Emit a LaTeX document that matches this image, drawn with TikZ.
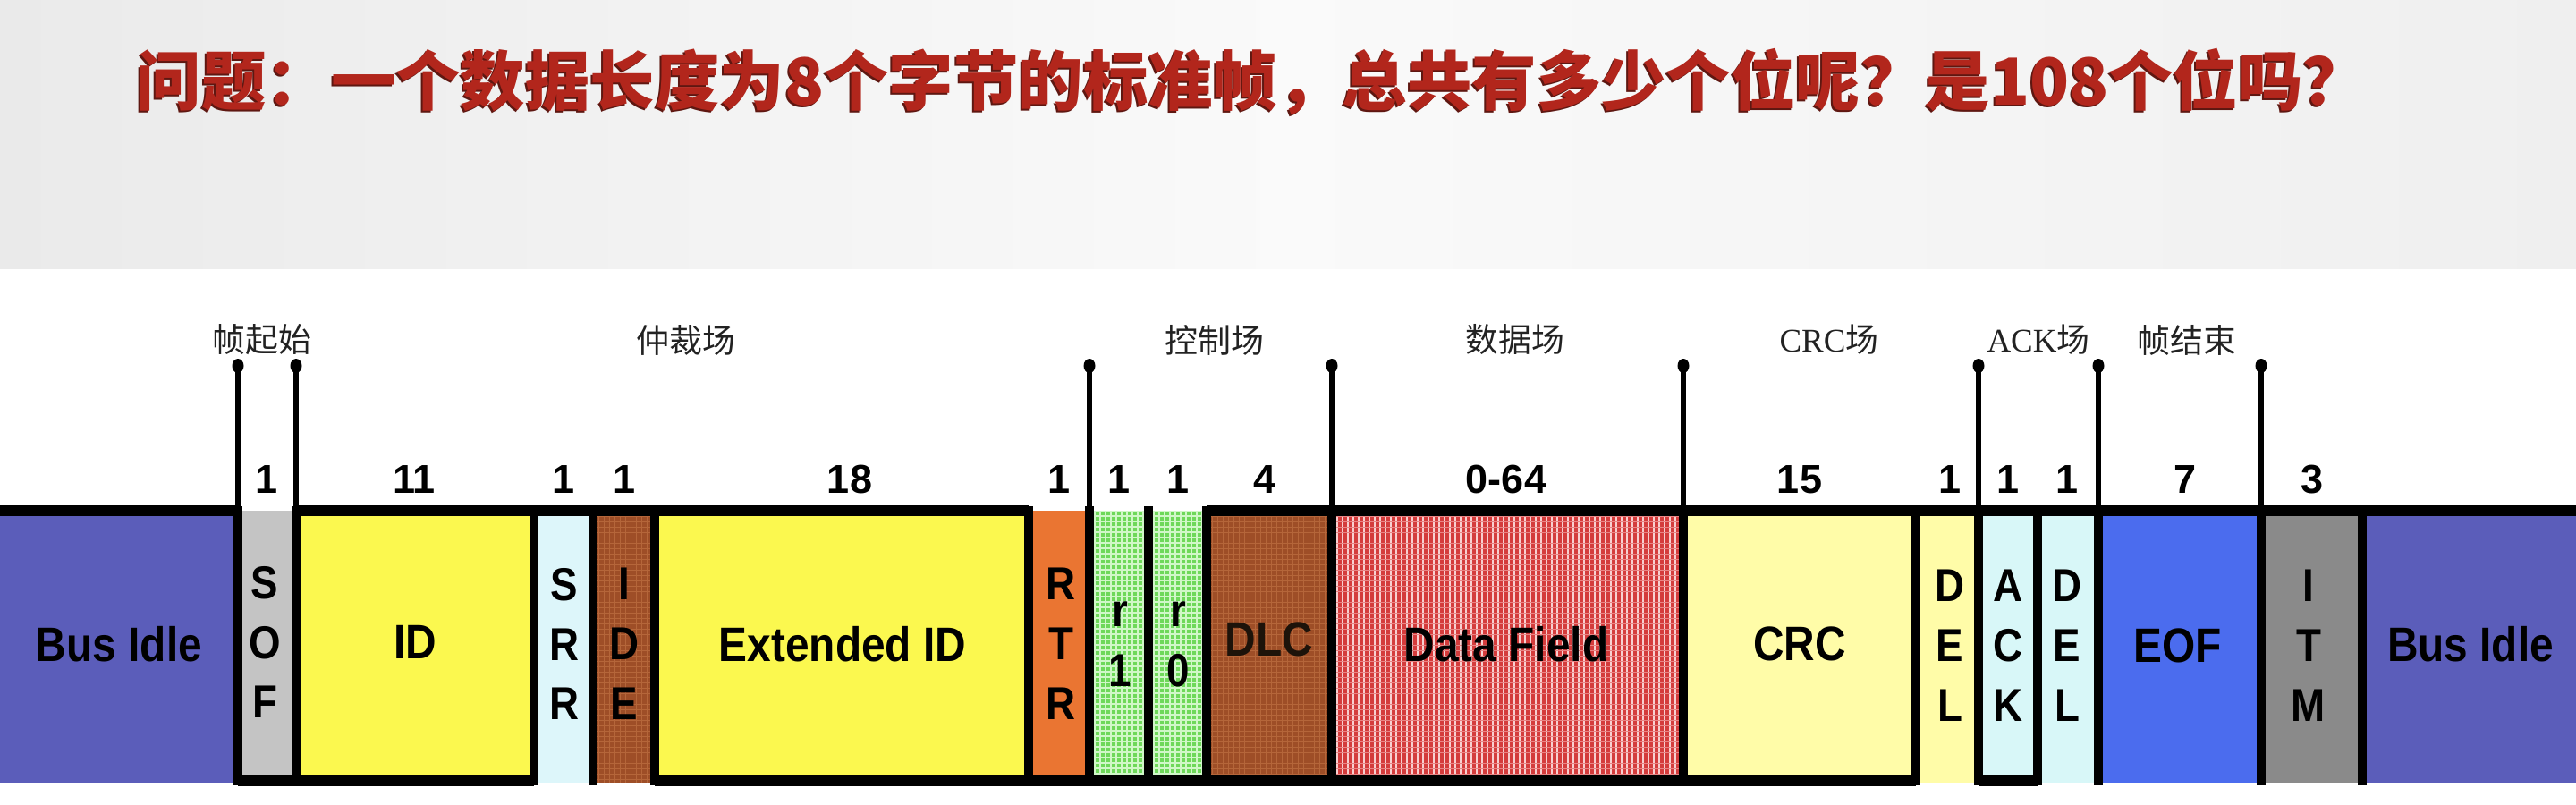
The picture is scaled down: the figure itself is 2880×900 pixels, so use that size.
\documentclass[tikz,border=0pt]{standalone}
\usepackage{fontspec}
\setmainfont{Liberation Sans}
\newfontfamily\cjk{Noto Sans CJK SC}
\newfontfamily\lserif{Liberation Serif}
\newcommand{\vst}[1]{\scalebox{1}[1.13]{#1}}
\definecolor{titlered}{HTML}{B2261C}
\definecolor{titleshadow}{HTML}{5E1711}
\definecolor{idle}{HTML}{5B5DBA}
\definecolor{sofgray}{HTML}{C4C4C4}
\definecolor{idyellow}{HTML}{FBF84F}
\definecolor{srrcyan}{HTML}{DDF6FA}
\definecolor{brownf}{HTML}{9E4E27}
\definecolor{brownln}{HTML}{B5663A}
\definecolor{rtrorange}{HTML}{EA7532}
\definecolor{greenbg}{HTML}{6ED85A}
\definecolor{greenln}{HTML}{D0F7C8}
\definecolor{redbg}{HTML}{D43C3C}
\definecolor{redln}{HTML}{F7D0D0}
\definecolor{redln2}{HTML}{E98585}
\definecolor{crcyellow}{HTML}{FFFCA8}
\definecolor{ackcyan}{HTML}{D8F7F8}
\definecolor{eofblue}{HTML}{4B6CEE}
\definecolor{itmgray}{HTML}{8A8A8A}
\definecolor{lblgray}{HTML}{222222}
\definecolor{hdrL}{HTML}{EAEAEA}
\definecolor{hdrR}{HTML}{EFEFEF}
\tikzset{
  hline/.style={line width=3.2pt, black},
  vline/.style={line width=3.0pt, black},
  pinline/.style={line width=1.45pt, black},
  num/.style={font=\fontsize{12.8}{15}\selectfont\bfseries, inner sep=0pt},
  inlbl/.style={font=\fontsize{13.6}{16}\selectfont\bfseries, inner sep=0pt},
  stack/.style={font=\fontsize{13}{19}\selectfont\bfseries, inner sep=0pt, align=center},
  cjklbl/.style={font=\cjk\fontsize{10.5}{12}\selectfont, text=lblgray, inner sep=0pt},
  titlefont/.style={font=\cjk\bfseries\fontsize{20.6}{24}\selectfont, inner sep=0pt, anchor=west}
}
\begin{document}
\begin{tikzpicture}[x=0.01cm, y=-0.01cm]
\useasboundingbox (0,0) rectangle (2880,900);
% background
\fill[white] (0,0) rectangle (2880,900);
\shade[left color=hdrL, right color=hdrR, middle color=white!98!black] (0,0) rectangle (2880,300);

% title
\node[titlefont, text=titleshadow] (titleshadow) at (150,93) {问题：一个数据长度为8个字节的标准帧，总共有多少个位呢？是108个位吗？};
\node[titlefont, text=titlered] (title) at (152,91) {问题：一个数据长度为8个字节的标准帧，总共有多少个位呢？是108个位吗？};

% field fills
\fill[idle] (0,571) rectangle (266,875);
\fill[sofgray] (266,571) rectangle (331,873);
\fill[idyellow] (331,571) rectangle (597,873);
\fill[srrcyan] (597,571) rectangle (663,875);
\begin{scope}
  \clip (663,571) rectangle (732,875);
  \fill[brownf] (663,571) rectangle (732,875);
  \foreach \x in {663,669,...,732} \draw[brownln, line width=0.25pt] (\x,571) -- (\x,875);
  \foreach \y in {571,577,...,875} \draw[brownln, line width=0.25pt] (663,\y) -- (732,\y);
\end{scope}
\fill[idyellow] (732,571) rectangle (1150,873);
\fill[rtrorange] (1150,571) rectangle (1218,873);
\begin{scope}
  \clip (1218,571) rectangle (1349,873);
  \fill[greenbg] (1218,571) rectangle (1349,873);
  \foreach \x in {1218,1224,...,1349} \draw[greenln, line width=0.3pt] (\x,571) -- (\x,873);
  \foreach \y in {571,577,...,873} \draw[greenln, line width=0.3pt] (1218,\y) -- (1349,\y);
\end{scope}
\begin{scope}
  \clip (1349,571) rectangle (1489,873);
  \fill[brownf] (1349,571) rectangle (1489,873);
  \foreach \x in {1349,1355,...,1489} \draw[brownln, line width=0.25pt] (\x,571) -- (\x,873);
  \foreach \y in {571,577,...,873} \draw[brownln, line width=0.25pt] (1349,\y) -- (1489,\y);
\end{scope}
\begin{scope}
  \clip (1489,571) rectangle (1882,873);
  \fill[redbg] (1489,571) rectangle (1882,873);
  \foreach \x in {1489,1495,...,1882} \draw[redln, line width=0.3pt] (\x,571) -- (\x,873);
  \foreach \y in {571,577,...,873} \draw[redln2, line width=0.25pt] (1489,\y) -- (1882,\y);
\end{scope}
\fill[crcyellow] (1882,571) rectangle (2142,873);
\fill[crcyellow] (2142,571) rectangle (2212,875);
\fill[ackcyan] (2212,571) rectangle (2278,873);
\fill[ackcyan] (2278,571) rectangle (2346,875);
\fill[eofblue] (2346,571) rectangle (2528,875);
\fill[itmgray] (2528,571) rectangle (2641,875);
\fill[idle] (2641,571) rectangle (2880,875);

% top level lines
\draw[hline] (0,571) -- (266,571);
\draw[hline] (331,571) -- (1150,571);
\draw[hline] (1349,571) -- (2880,571);
% bottom level lines
\draw[hline] (266,873) -- (597,873);
\draw[hline] (732,873) -- (2142,873);
\draw[hline] (2212,873) -- (2278,873);

% pins
\foreach \x [count=\i] in {266,331,1218,1489,1882,2212,2346,2528} {
  \coordinate (pt\i) at (\x,409);
  \coordinate (pb\i) at (\x,877);
  \draw[pinline] (pt\i) -- (pb\i);
  \fill (pt\i) ellipse [x radius=6.5, y radius=8];
}
% separators inside the bar
\foreach \x in {266,331,597,663,732,1150,1218,1284,1349,1489,1882,2142,2212,2278,2346,2528,2641}
  \draw[vline] (\x,566) -- (\x,878);

% group labels
\node[cjklbl] (gsof) at (293,380) {帧起始};
\node[cjklbl] (garb) at (767,380) {仲裁场};
\node[cjklbl] (gctl) at (1358,380) {控制场};
\node[cjklbl] (gdata) at (1694,380) {数据场};
\node[cjklbl] (gcrc) at (2045,380) {{\lserif CRC}场};
\node[cjklbl] (gack) at (2279,380) {{\lserif ACK}场};
\node[cjklbl] (geof) at (2445,380) {帧结束};

% bit counts
\node[num] (n1) at (298,536) {1};
\node[num] (n2) at (463,536) {11};
\node[num] (n3) at (630,536) {1};
\node[num] (n4) at (698,536) {1};
\node[num] (n5) at (950,536) {18};
\node[num] (n6) at (1184,536) {1};
\node[num] (n7) at (1251,536) {1};
\node[num] (n8) at (1317,536) {1};
\node[num] (n9) at (1414,536) {4};
\node[num] (n10) at (1684,536) {0-64};
\node[num] (n11) at (2012,536) {15};
\node[num] (n12) at (2180,536) {1};
\node[num] (n13) at (2245,536) {1};
\node[num] (n14) at (2311,536) {1};
\node[num] (n15) at (2443,536) {7};
\node[num] (n16) at (2585,536) {3};

% field labels
\node[inlbl] (lidle1) at (133,720) {\vst{Bus Idle}};
\node[stack] (lsof) at (296,718) {\vst{S}\\\vst{O}\\\vst{F}};
\node[inlbl] (lid) at (464,718) {\vst{ID}};
\node[stack] (lsrr) at (631,720) {\vst{S}\\\vst{R}\\\vst{R}};
\node[stack] (lide) at (698,720) {\vst{I}\\\vst{D}\\\vst{E}};
\node[inlbl] (lext) at (942,720) {\vst{Extended ID}};
\node[stack] (lrtr) at (1186,720) {\vst{R}\\\vst{T}\\\vst{R}};
\node[stack] (lr1) at (1252,720) {\vst{r}\\\vst{1}};
\node[stack] (lr0) at (1317,720) {\vst{r}\\\vst{0}};
\node[inlbl, text=black!85!brown] (ldlc) at (1419,715) {\vst{DLC}};
\node[inlbl] (ldata) at (1684,720) {\vst{Data Field}};
\node[inlbl] (lcrc) at (2012,720) {\vst{CRC}};
\node[stack] (ldel1) at (2180,722) {\vst{D}\\\vst{E}\\\vst{L}};
\node[stack] (lack) at (2245,722) {\vst{A}\\\vst{C}\\\vst{K}};
\node[stack] (ldel2) at (2311,722) {\vst{D}\\\vst{E}\\\vst{L}};
\node[inlbl] (leof) at (2435,722) {\vst{EOF}};
\node[stack] (litm) at (2581,722) {\vst{I}\\\vst{T}\\\vst{M}};
\node[inlbl] (lidle2) at (2762,720) {\vst{Bus Idle}};
\end{tikzpicture}
\end{document}
